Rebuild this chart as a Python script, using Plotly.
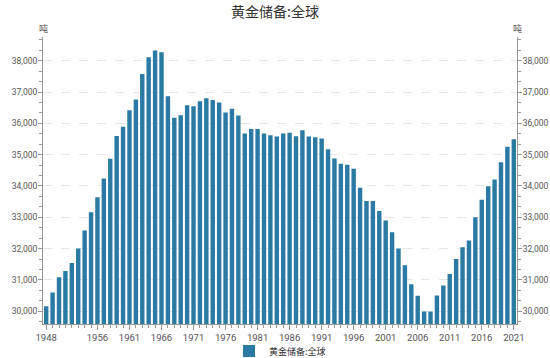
import plotly.graph_objects as go

years = list(range(1948, 2022))
reserves = [
    30160, 30600, 31080, 31280, 31540, 32000, 32580, 33160, 33640, 34240,
    34870, 35600, 35890, 36420, 36760, 37580, 38110, 38330, 38270, 36870,
    36180, 36260, 36580, 36550, 36710, 36800, 36750, 36670, 36350, 36470,
    36250, 35680, 35820, 35820, 35680, 35620, 35580, 35680, 35700, 35590,
    35780, 35580, 35560, 35520, 35170, 34880, 34710, 34680, 34550, 33940,
    33520, 33520, 33200, 32900, 32520, 32000, 31470, 30860, 30490, 29990,
    29990, 30500, 30820, 31190, 31670, 32040, 32260, 33000, 33560, 33990,
    34210, 34760, 35250, 35490,
]
x_ticks = [1948] + list(range(1956, 2022, 5))
y_ticks = list(range(30000, 38001, 1000))
y_labels = [f"{v:,}" for v in y_ticks]

title = "黄金储备:全球"
series_name = "黄金储备:全球"
unit = "吨"

FONT = "Roboto, Noto Sans CJK SC, sans-serif"
CJK = "Noto Sans CJK SC, sans-serif"
BAR = "#2a7aa3"
W, H = 550, 358
ml, mr, mt, mb = 43, 33, 37, 34
ph = H - mt - mb
yr = [29590, 38760]

fig = go.Figure()
fig.add_trace(go.Bar(x=years, y=reserves, name=series_name,
                     marker=dict(color=BAR, line=dict(width=0)),
                     showlegend=True))
# invisible trace for right axis
fig.add_trace(go.Scatter(x=[years[0]], y=[reserves[0]], yaxis="y2",
                         mode="markers", marker=dict(opacity=0),
                         showlegend=False, hoverinfo="skip"))

yaxis_common = dict(
    range=yr, tickmode="array", tickvals=y_ticks, ticktext=y_labels,
    ticks="outside", ticklen=4, tickcolor="#999", tickwidth=1,
    showline=True, linecolor="#999", linewidth=1,
    tickfont=dict(family=FONT, size=8.5, color="#555"),
    ticklabelstandoff=-1,
    minor=dict(tickmode="linear", tick0=30000, dtick=1000 / 3,
               ticks="outside", ticklen=3, tickcolor="#999", showgrid=False),
    zeroline=False, fixedrange=True, automargin=False,
)

fig.update_layout(
    width=W, height=H, autosize=False,
    margin=dict(l=ml, r=mr, t=mt, b=mb, pad=0, autoexpand=False),
    paper_bgcolor="white", plot_bgcolor="white",
    title=dict(text=title, x=0.5, xanchor="center", y=1 - 12 / H,
               yanchor="middle", yref="container",
               font=dict(family=CJK, size=14, color="#333")),
    bargap=0.31,
    xaxis=dict(range=[1947.5, 2021.5], tickmode="array", tickvals=x_ticks,
               ticks="outside", ticklen=5, tickcolor="#999",
               showline=True, linecolor="#999", linewidth=1,
               showgrid=False, zeroline=False, automargin=False,
               tickfont=dict(family=FONT, size=9.5, color="#555"),
               minor=dict(tickmode="linear", tick0=1948, dtick=1,
                          ticks="outside", ticklen=3, tickcolor="#999",
                          showgrid=False)),
    yaxis=dict(**yaxis_common, side="left", showgrid=True,
               gridcolor="#e6e6e6", griddash="dash", gridwidth=1),
    yaxis2=dict(**yaxis_common, side="right", overlaying="y", showgrid=False),
    legend=dict(orientation="h", x=0.5, xanchor="center",
                y=-(351 - (H - mb)) / ph, yanchor="middle",
                font=dict(family=CJK, size=9, color="#333"),
                bgcolor="rgba(0,0,0,0)"),
    annotations=[
        dict(text=unit, xref="paper", yref="paper", x=0, y=1 + 9 / ph,
             xanchor="center", yanchor="middle", showarrow=False,
             font=dict(family=CJK, size=9, color="#555")),
        dict(text=unit, xref="paper", yref="paper", x=1, y=1 + 9 / ph,
             xanchor="center", yanchor="middle", showarrow=False,
             font=dict(family=CJK, size=9, color="#555")),
    ],
)

fig.write_html("out.html")
